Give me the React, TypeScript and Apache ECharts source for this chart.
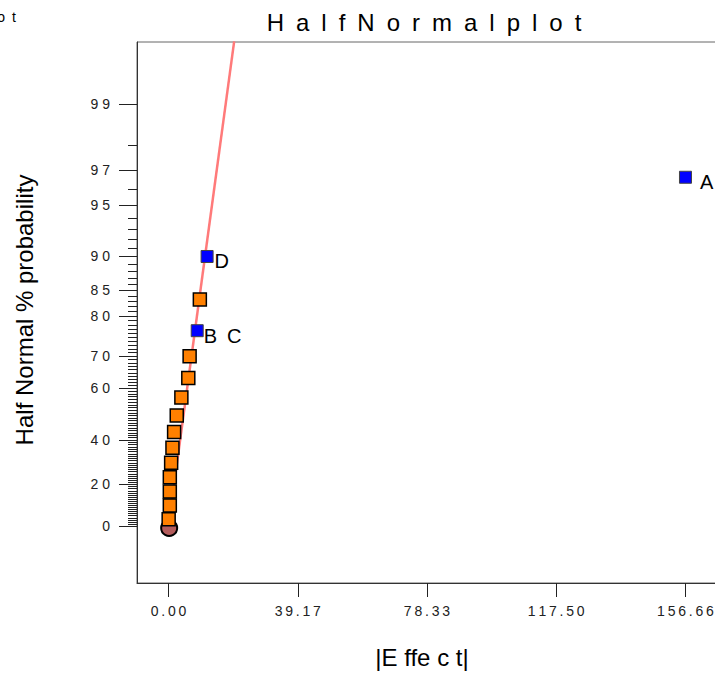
import React, { useEffect, useRef } from "react";
import * as echarts from "echarts";

// Half-normal plot data (|effect| vs. half-normal % probability)
const probabilities = [3.33, 10, 16.67, 23.33, 30, 36.67, 43.33, 50, 56.67, 63.33, 70, 76.67, 83.33, 90, 96.67];
const effects = [0.05, 0.4, 0.4, 0.4, 0.8, 1.2, 1.7, 2.5, 3.9, 6.0, 6.4, 8.7, 9.5, 11.7, 156.66];
const termLabels = ["", "", "", "", "", "", "", "", "", "", "", "B C", "", "D", "A"];

// reference (fit) line endpoints
const fitEffects = [0, 19.9];
const fitProbabilities = [0, 99.69];

// origin marker
const originEffect = [0.2];
const originProbability = [0];

// axis tick labels
const xTickLabels = ["0.00", "39.17", "78.33", "117.50", "156.66"];
const yTickLabels = ["0", "20", "40", "60", "70", "80", "85", "90", "95", "97", "99"];
const yMinorTickLabels = Array.from({ length: 100 }, (_, i) => String(i));

// styles (kept apart from data)
const labelDistance: Record<string, number> = { "B C": 0, D: 1, A: 8 };
const FONT = "'Liberation Sans', Arial, Helvetica, sans-serif";

function invNorm(p: number): number {
  const a = [-3.969683028665376e1, 2.209460984245205e2, -2.759285104469687e2, 1.38357751867269e2, -3.066479806614716e1, 2.506628277459239];
  const b = [-5.447609879822406e1, 1.615858368580409e2, -1.556989798598866e2, 6.680131188771972e1, -1.328068155288572e1];
  const c = [-7.784894002430293e-3, -3.223964580411365e-1, -2.400758277161838, -2.549732539343734, 4.374664141464968, 2.938163982698783];
  const d = [7.784695709041462e-3, 3.224671290700398e-1, 2.445134137142996, 3.754408661907416];
  const plow = 0.02425;
  const phigh = 1 - plow;
  if (p <= 0) return -Infinity;
  if (p >= 1) return Infinity;
  if (p < plow) {
    const q = Math.sqrt(-2 * Math.log(p));
    return (((((c[0] * q + c[1]) * q + c[2]) * q + c[3]) * q + c[4]) * q + c[5]) / ((((d[0] * q + d[1]) * q + d[2]) * q + d[3]) * q + 1);
  }
  if (p <= phigh) {
    const q = p - 0.5;
    const r = q * q;
    return ((((((a[0] * r + a[1]) * r + a[2]) * r + a[3]) * r + a[4]) * r + a[5]) * q) / (((((b[0] * r + b[1]) * r + b[2]) * r + b[3]) * r + b[4]) * r + 1);
  }
  const q = Math.sqrt(-2 * Math.log(1 - p));
  return -(((((c[0] * q + c[1]) * q + c[2]) * q + c[3]) * q + c[4]) * q + c[5]) / ((((d[0] * q + d[1]) * q + d[2]) * q + d[3]) * q + 1);
}

// half-normal quantile of a percentage
const halfZ = (pct: number) => invNorm(0.5 + pct / 200);
const spaced = (s: string, gap = " ") => s.split("").join(gap);

const Y_MIN = -0.348;
const Y_MAX = 2.954;
const X_MIN = -9.545;
const X_MAX = 177.73;

export default function App() {
  const ref = useRef<HTMLDivElement>(null);

  useEffect(() => {
    if (!ref.current) return;
    const chart = echarts.init(ref.current, null, { renderer: "svg" });

    const yMajor = yTickLabels.map((l) => halfZ(Number(l)));
    const yMinor = yMinorTickLabels.map((l) => halfZ(Number(l)));
    const xMajor = xTickLabels.map((l) => Number(l));

    const points = effects.map((e, i) => {
      const sig = termLabels[i] !== "";
      return {
        value: [e, halfZ(probabilities[i])],
        symbolSize: sig ? 12 : 13,
        itemStyle: sig
          ? { color: "#0000ff", borderColor: "#444444", borderWidth: 1, opacity: 1 }
          : { color: "#ff8000", borderColor: "#000000", borderWidth: 1.5, opacity: 1 },
        label: sig
          ? {
              show: true,
              formatter: termLabels[i].replace(" ", "\u2002"),
              position: "right",
              distance: labelDistance[termLabels[i]] ?? 4,
              offset: [0, 5],
              color: "#000",
              fontSize: 20,
              fontFamily: FONT,
            }
          : { show: false },
      };
    });

    const option: any = {
      animation: false,
      backgroundColor: "#ffffff",
      grid: {
        left: 137,
        top: 42,
        width: 618,
        height: 541,
        show: true,
        borderColor: "#666666",
        borderWidth: 1,
        backgroundColor: "transparent",
        outerBoundsMode: "none",
        containLabel: false,
      },
      xAxis: {
        type: "value",
        min: X_MIN,
        max: X_MAX,
        axisLine: { show: true, onZero: false, lineStyle: { color: "#333", width: 1 } },
        axisTick: { show: true, customValues: xMajor, length: 14, lineStyle: { color: "#222", width: 1 } },
        axisLabel: {
          customValues: xMajor,
          margin: 21,
          color: "#222",
          fontSize: 14,
          fontFamily: FONT,
          formatter: (v: number) => {
            let best = 0;
            xMajor.forEach((m, i) => {
              if (Math.abs(m - v) < Math.abs(xMajor[best] - v)) best = i;
            });
            return spaced(xTickLabels[best], "\u2009");
          },
        },
        splitLine: { show: false },
      },
      yAxis: [
        {
          type: "value",
          min: Y_MIN,
          max: Y_MAX,
          position: "left",
          axisLine: { show: true, onZero: false, lineStyle: { color: "#333", width: 1 } },
          axisTick: { show: true, customValues: yMajor, length: 18, lineStyle: { color: "#222", width: 1 } },
          axisLabel: {
            customValues: yMajor,
            margin: 27,
            color: "#222",
            fontSize: 14,
            fontFamily: FONT,
            formatter: (v: number) => {
              let best = 0;
              yMajor.forEach((m, i) => {
                if (Math.abs(m - v) < Math.abs(yMajor[best] - v)) best = i;
              });
              return spaced(yTickLabels[best]);
            },
          },
          splitLine: { show: false },
        },
        {
          type: "value",
          min: Y_MIN,
          max: Y_MAX,
          position: "left",
          offset: 0,
          axisLine: { show: false, onZero: false },
          axisTick: { show: true, customValues: yMinor, length: 9, lineStyle: { color: "#222", width: 1 } },
          axisLabel: { show: false },
          splitLine: { show: false },
        },
      ],
      series: [
        {
          type: "line",
          data: fitEffects.map((e, i) => [e, halfZ(fitProbabilities[i])]),
          showSymbol: false,
          symbol: "none",
          lineStyle: { color: "#ff7a7a", width: 2.5 },
          clip: true,
          z: 1,
          silent: true,
        },
        {
          type: "scatter",
          data: originEffect.map((e, i) => [e, halfZ(originProbability[i])]),
          symbol: "circle",
          symbolSize: 16,
          symbolOffset: [0, 2],
          itemStyle: { color: "#b35c5c", borderColor: "#000", borderWidth: 2, opacity: 1 },
          z: 2,
        },
        {
          type: "scatter",
          symbol: "rect",
          data: points,
          z: 3,
        },
      ],
      graphic: [
        {
          type: "text",
          x: 424,
          y: 22,
          style: {
            text: "Half Normal plot".replace(/ /g, "").split("").join("\u2002"),
            align: "center",
            verticalAlign: "middle",
            fontSize: 24,
            fontFamily: FONT,
            fill: "#000",
          },
        },
        {
          type: "text",
          x: 16,
          y: 17,
          style: {
            text: "p\u2002l\u2002o\u2002t",
            align: "right",
            verticalAlign: "middle",
            fontSize: 14,
            fontFamily: FONT,
            fill: "#000",
          },
        },
        {
          type: "text",
          x: 24,
          y: 310,
          rotation: Math.PI / 2,
          style: {
            text: "Half Normal % probability",
            align: "center",
            verticalAlign: "middle",
            fontSize: 24,
            fontFamily: FONT,
            fill: "#000",
          },
        },
        {
          type: "text",
          x: 422,
          y: 657,
          style: {
            text: "|E ffe c t|",
            align: "center",
            verticalAlign: "middle",
            fontSize: 24,
            fontFamily: FONT,
            fill: "#000",
          },
        },
      ],
    };

    chart.setOption(option);
    return () => chart.dispose();
  }, []);

  return (
    <div
      ref={ref}
      style={{ position: "absolute", left: 0, top: 0, width: 715, height: 699, background: "#fff" }}
    />
  );
}
